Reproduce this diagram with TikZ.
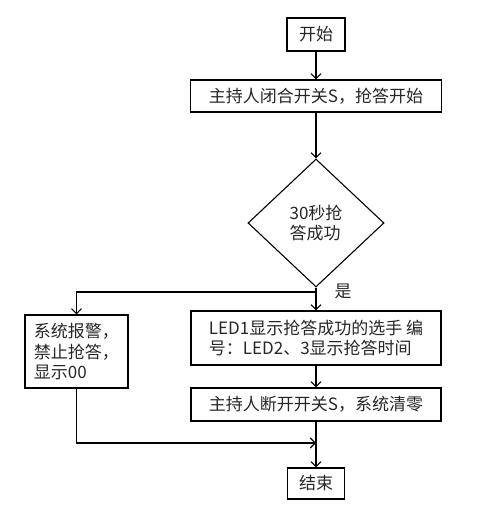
\documentclass[tikz,border=0pt]{standalone}
\usepackage{fontspec}
\setmainfont{Noto Sans CJK SC}
\usetikzlibrary{shapes.geometric,arrows.meta}
\begin{document}
\begin{tikzpicture}[x=1pt,y=1pt,line width=1.1pt,
  >={Straight Barb[length=5pt,width=10pt]},
  txt/.style={font=\fontsize{17}{20.5}\selectfont,text=black!85},
  box/.style={txt,draw,rectangle,inner sep=0pt},
  test/.style={txt,draw,diamond,inner sep=0pt,aspect=1.06,
    minimum width=136pt,minimum height=128pt,align=left}]
  \useasboundingbox (0,0) rectangle (501,509);
  \node (start) [box,minimum width=58pt,minimum height=33pt] at (316,474.5) {开始};
  \node (host) [box,minimum width=251pt,minimum height=32pt] at (316,413) {主持人闭合开关S，抢答开始};
  \node (test) [test] at (316,286) {30秒抢\\答成功};
  \coordinate (split) at (316,217);
  \node (yes) [txt] at (343,217.5) {是};
  \node (led) [box,minimum width=250pt,minimum height=54pt,align=left] at (316,171)
    {LED1显示抢答成功的选手 编\\号：LED2、3显示抢答时间};
  \node (alarm) [box,minimum width=103pt,minimum height=73pt,align=left] at (76.5,157.5)
    {系统报警，\\禁止抢答，\\显示00};
  \node (clear) [box,minimum width=250pt,minimum height=33pt] at (316,104.5) {主持人断开开关S，系统清零};
  \coordinate (merge) at (316,66);
  \node (end) [box,minimum width=57pt,minimum height=31pt] at (316,25.5) {结束};
  \draw[->] (start) -- (host);
  \draw[->] (host) -- (test);
  \draw (test.south) -- (split);
  \draw[->] (split) -| (alarm.north);
  \draw[->] (split) -- (led);
  \draw[->] (led) -- (clear);
  \draw[->] (alarm.south) |- (merge);
  \draw[->] (clear) -- (end);
\end{tikzpicture}
\end{document}
